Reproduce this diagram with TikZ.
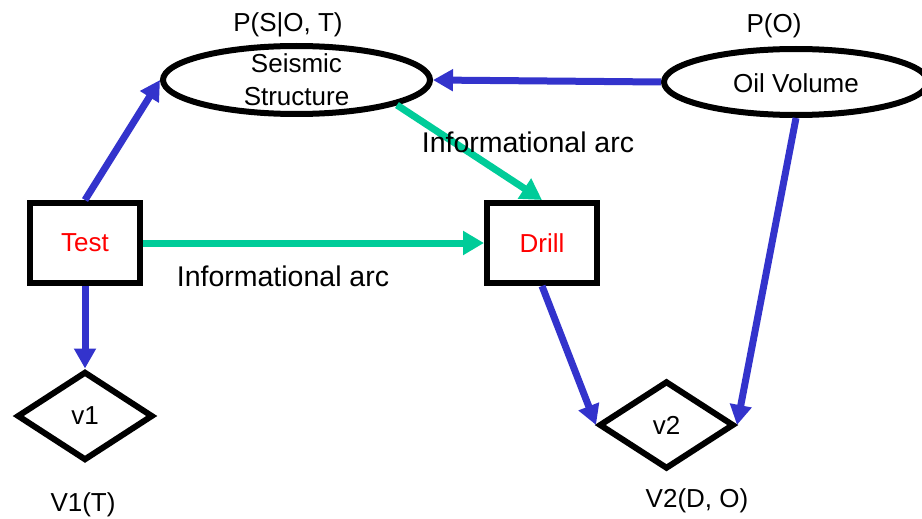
\documentclass[tikz,border=0pt]{standalone}
\usepackage{fontspec}
\setmainfont{Liberation Sans}
\usetikzlibrary{arrows.meta,shapes.geometric}
\definecolor{arcblue}{RGB}{51,51,204}
\definecolor{infogreen}{RGB}{0,204,153}

\begin{document}
\begin{tikzpicture}[x=1pt,y=-1pt,
  lbl/.style={font=\fontsize{26}{33}\selectfont, inner sep=0pt},
  note/.style={lbl, anchor=base},
  arclabel/.style={note, font=\fontsize{28.5}{34}\selectfont},
  chance/.style={ellipse, draw, line width=6pt, inner sep=0pt,
    font=\fontsize{26}{33}\selectfont},
  decision/.style={rectangle, draw, line width=6pt, minimum width=110pt,
    minimum height=80pt, inner sep=0pt, font=\fontsize{26}{33}\selectfont,
    text=red},
  utility/.style={diamond, draw, line width=6pt, line join=miter,
    inner sep=0pt, font=\fontsize{26}{33}\selectfont},
  causal/.style={draw=arcblue, line width=7pt,
    -{Triangle[length=20pt,width=21pt]}},
  info/.style={draw=infogreen, line width=7pt,
    -{Triangle[length=21pt,width=23pt]}},
]
\useasboundingbox (0,0) rectangle (922,519);

% chance nodes
\node[chance, minimum width=267pt, minimum height=68pt] (seis) at (296.5,80) {};
\node[lbl, align=center] (seistext) at (seis.center) {Seismic\\Structure};
\node[chance, minimum width=264pt, minimum height=66pt] (oil) at (796,82) {};
\node[note] (oiltext) at (796,93) {Oil Volume};

% decision nodes
\node[decision] (test) at (85,243) {Test};
\node[decision] (drill) at (542,243) {Drill};

% utility nodes
\node[utility, minimum width=136pt, minimum height=89pt] (v1) at (85,416) {v1};
\node[utility, minimum width=135pt, minimum height=88pt] (v2) at (666.5,425) {v2};

% probability and value labels
\node[note] (pseis) at (288,32) {P(S|O, T)};
\node[note] (poil) at (774,33) {P(O)};
\node[note] (vone) at (83,511) {V1(T)};
\node[note] (vtwo) at (697,507) {V2(D, O)};

% arcs
\draw[causal] (test.north) -- (seis.west);
\draw[causal] (oil.west) -- (seis.east);
\draw[info] (seis.-14) -- (drill.north);
\draw[info] (test.east) -- (drill.west);
\draw[causal] (test.south) -- (v1.north);
\draw[causal] (drill.south) -- (v2.west);
\draw[causal] (oil.south) -- (v2.east);

% arc labels
\node[arclabel] (infoA) at (528,153) {Informational arc};
\node[arclabel] (infoB) at (283,286) {Informational arc};
\end{tikzpicture}
\end{document}
